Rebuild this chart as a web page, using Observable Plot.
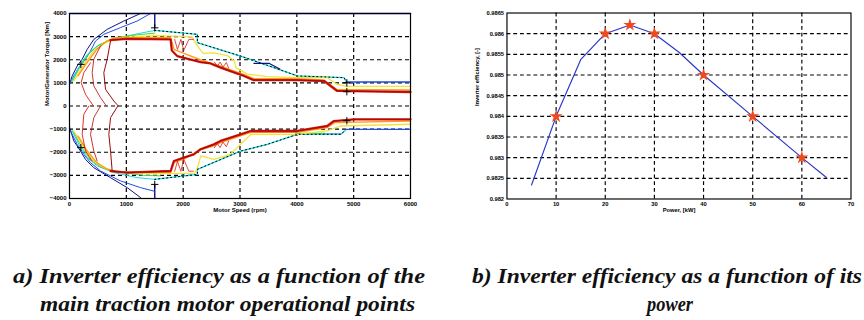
<!DOCTYPE html>
<html><head><meta charset="utf-8">
<script src="https://cdn.jsdelivr.net/npm/d3@7"></script>
<script src="https://cdn.jsdelivr.net/npm/@observablehq/plot@0.6"></script>
<style>
html,body{margin:0;padding:0;background:#fff;}
#wrap{position:relative;width:864px;height:320px;overflow:hidden;background:#fff;}
#left{position:absolute;left:0;top:0;}
#right{position:absolute;left:440px;top:0;}
#cap{position:absolute;left:0;top:240px;}
#cap text{font-family:"Liberation Serif","Times New Roman",serif;font-style:italic;font-weight:bold;font-size:21px;fill:#111;}
</style></head><body>
<div id="wrap"><div id="left"></div><div id="right"></div><svg id="cap" width="864" height="80"></svg></div>
<script>
// ---------- Left chart: contour lines (rpm, torque Nm) ----------
const speedTicks = [0, 1000, 2000, 3000, 4000, 5000, 6000];
const torqueTicks = [-4000, -3000, -2000, -1000, 0, 1000, 2000, 3000, 4000];

const navyTop = [[10,1000],[47,1300],[135,1730],[223,2020],[311,2450],[428,2880],[663,3315],[956,3675],[1250,4000]];
const blueTop = [[0,940],[76,1300],[164,1660],[282,2020],[370,2380],[458,2810],[604,3100],[898,3390],[1191,3675],[1426,4000]];
const topEdge = [[0,4000],[6000,4000]];
const limitTop = [[1500,4000],[1500,3380]];
const cyanTop = [[30,1060],[194,1800],[311,2230],[487,2600],[780,2900],[1191,3120],[1500,3270]];
const envelopeTop = [[1500,3270],[2250,3100],[2250,2740],[3010,2160],[3480,1760],[4010,1300],[4830,1225],[4880,1010]];
const navyPieceTop = [[3244,1845],[3508,1845],[3700,1600]];
const blueRightTop = [[4880,1035],[6000,1035]];
const greenTop = [[50,1060],[210,1800],[340,2260],[520,2640],[800,2960],[1200,3080],[1500,3150]];
const yellowTop = [[76,1080],[252,1800],[428,2380],[604,2700],[840,2960],[1500,3040],[2150,3000],[2250,2600],[2350,2280],[2540,2300],[2780,2180],[2900,1950],[2930,1650],[3130,1380],[3480,1270],[4000,1230],[4530,1230],[4710,940],[4880,850],[6000,850]];
const orangeTop = [[150,1300],[300,1850],[480,2450],[650,2800],[800,2950],[1780,2950],[1840,2450],[2010,2280],[2300,2000],[2660,1720],[3070,1360],[3240,1180],[4000,1180],[4470,1130],[4700,720],[6000,690]];
const redTop = [[720,2850],[1000,2900],[1780,2880],[1800,2400],[1895,2160],[2306,1900],[2480,1840],[2660,1660],[2830,1510],[3070,1300],[3240,1120],[4010,1120],[4480,1080],[4710,650],[6000,605]];
const innerTopA = [[370,1870],[252,1440],[205,1010],[282,500],[420,0]];
const innerTopB = [[546,2600],[428,2020],[399,1440],[428,865],[546,360],[650,0]];
const innerTopC = [[722,2810],[663,2020],[604,1440],[634,720],[780,216],[860,0]];
const fringeTop1 = [[1850,2880],[1900,2450],[1960,2880],[2010,2400],[2100,2880],[2180,2880]];
const fringeTop2 = [[2550,1900],[2600,1720],[2650,1900],[2700,1680],[2760,1880],[2800,1640]];

const navyBot = [[5,-940],[76,-1510],[194,-1950],[282,-2310],[428,-2670],[722,-3100],[1015,-3530],[1250,-3960]];
const blueBot = [[18,-1080],[135,-1660],[252,-2090],[370,-2450],[546,-2810],[898,-3240],[1250,-3530],[1484,-3680]];
const limitBot = [[1500,-4000],[1500,-3390]];
const cyanBot = [[47,-1080],[194,-1800],[311,-2230],[487,-2590],[780,-2880],[1191,-3100],[1500,-3170]];
const envelopeBot = [[1500,-3170],[2250,-2960],[2250,-2740],[3010,-1950],[3480,-1660],[4010,-1225],[4770,-1225],[4860,-1050]];
const blueRightBot = [[4860,-1010],[6000,-1010]];
const greenBot = [[60,-1080],[220,-1800],[360,-2300],[550,-2650],[820,-2850],[1300,-3000],[1600,-3020]];
const greenPieceBot = [[3980,-1190],[4480,-1190]];
const bluePieceBot = [[4480,-1220],[4770,-1220]];
const yellowBot = [[76,-1080],[252,-1800],[428,-2380],[604,-2670],[840,-2850],[1500,-2920],[2200,-2900],[2250,-2700],[2310,-2160],[2540,-2310],[2830,-2090],[2950,-1800],[3190,-1225],[4010,-1225],[4530,-1080],[4770,-865],[6000,-790]];
const orangeBot = [[150,-1300],[300,-1900],[480,-2450],[650,-2720],[800,-2840],[1780,-2870],[1840,-2450],[2010,-2300],[2300,-1900],[2540,-1720],[2660,-1580],[3010,-1290],[3190,-1140],[4010,-1140],[4540,-930],[4660,-720],[6000,-650]];
const redBot = [[722,-2810],[1015,-2880],[1780,-2810],[1836,-2380],[2012,-2230],[2188,-2090],[2306,-1870],[2540,-1660],[2658,-1510],[3010,-1225],[3186,-1080],[4007,-1080],[4535,-865],[4652,-650],[5004,-577],[6000,-577]];
const innerBotA = [[340,0],[252,-360],[223,-1225],[282,-1946],[399,-2378]];
const innerBotB = [[546,0],[428,-505],[370,-1225],[428,-1946],[487,-2378]];
const innerBotC = [[850,0],[722,-505],[692,-1225],[722,-1946],[751,-2811]];
const fringeBot1 = [[1850,-2820],[1900,-2400],[1960,-2820],[2010,-2300],[2100,-2820],[2180,-2820]];
const fringeBot2 = [[2550,-1800],[2600,-1620],[2650,-1800],[2700,-1560],[2760,-1760],[2800,-1520]];
const plusPoints = [[1500,3380],[200,1800],[4880,1000],[4880,620],[1500,-3390],[200,-1800],[4880,-640]];

// ---------- Right chart ----------
const powerLine = [5, 10, 15, 20, 25, 30, 35, 40, 50, 60, 65];
const effLine = [0.98234, 0.984, 0.98537, 0.986, 0.98621, 0.986, 0.98555, 0.985, 0.984, 0.983, 0.98252];
const powerPts = [10, 20, 25, 30, 40, 50, 60];
const effPts = [0.984, 0.986, 0.98621, 0.986, 0.985, 0.984, 0.983];
const powerTicks = [0, 10, 20, 30, 40, 50, 60, 70];
const effTicks = [0.982, 0.9825, 0.983, 0.9835, 0.984, 0.9845, 0.985, 0.9855, 0.986, 0.9865];

const captions = [
  "a) Inverter efficiency as a function of the",
  "main traction motor operational points",
  "b) Inverter efficiency as a function of its",
  "power"
];

// ---------- build ----------
const C = {navy:"#10108a", blue:"#1f4fe0", cyan:"#20d8e0", green:"#40d840", yellow:"#f2e23a", orange:"#ff9a1a", red:"#e01a10", dark:"#9a0a0a", edge:"#3434d0"};
const gridStyle = {stroke:"#000", strokeOpacity:1, strokeWidth:1.2, strokeDasharray:"4,3"};
const ln = (arr, stroke, w = 1, extra = {}) => Plot.line(arr, {x: d => d[0], y: d => d[1], stroke, strokeWidth: w, ...extra});

const leftSpecs = [
  [topEdge, C.edge, 1.6], [limitTop, C.navy, 1.4], [limitBot, C.navy, 1.4],
  [navyTop, C.navy, 1], [navyBot, C.navy, 1],
  [blueTop, C.blue, 1], [blueBot, C.blue, 1],
  [cyanTop, C.cyan, 1], [cyanBot, C.cyan, 1],
  [greenTop, C.green, 1], [greenBot, C.green, 1], [greenPieceBot, C.green, 1.4], [bluePieceBot, C.blue, 1.4],
  [envelopeTop, C.cyan, 1.3], [envelopeBot, C.cyan, 1.3],
  [blueRightTop, C.blue, 1.4], [blueRightBot, C.blue, 1.4], [navyPieceTop, C.navy, 1.2],
  [yellowTop, C.yellow, 1.3], [yellowBot, C.yellow, 1.3],
  [orangeTop, C.orange, 1.4], [orangeBot, C.orange, 1.4],
  [redTop, C.red, 2.3], [redBot, C.red, 2.3],
  [innerTopA, C.red, 0.9], [innerTopB, "#c0201a", 0.9], [innerTopC, C.dark, 1],
  [innerBotA, C.red, 0.9], [innerBotB, "#c0201a", 0.9], [innerBotC, C.dark, 1],
  [fringeTop1, C.red, 0.8], [fringeTop2, C.red, 0.8], [fringeBot1, C.red, 0.8], [fringeBot2, C.red, 0.8]
];

const leftPlot = Plot.plot({
  width: 440, height: 222,
  marginLeft: 69, marginRight: 30, marginTop: 13, marginBottom: 24,
  style: {fontSize: "6px", fontWeight: "bold", fontFamily: "Liberation Sans, Arial, sans-serif", color: "#000", background: "transparent"},
  x: {domain: [0, 6000], ticks: speedTicks, tickSize: 0, tickPadding: 3, tickFormat: d3.format("d"), label: null},
  y: {domain: [-4000, 4000], ticks: torqueTicks, tickSize: 0, tickPadding: 3, tickFormat: d3.format("d"), label: null},
  marks: [
    Plot.gridX(speedTicks.slice(1, -1), gridStyle),
    Plot.gridY(torqueTicks.slice(1, -1), gridStyle),
    ...leftSpecs.map(([a, c, w]) => ln(a, c, w)),
    ln(envelopeTop, "#000", 1, {strokeDasharray: "1,3"}),
    ln(envelopeBot, "#000", 1, {strokeDasharray: "1,3"}),
    ln(redTop, C.dark, 1), ln(redBot, C.dark, 1),
    Plot.dot(plusPoints, {x: d => d[0], y: d => d[1], symbol: "plus", stroke: "#000", r: 2.5, strokeWidth: 1}),
    Plot.frame({stroke: "#000", strokeWidth: 1.2}),
    Plot.text(["Motor Speed (rpm)"], {text: d => d, frameAnchor: "bottom", dy: 13, fontSize: 6, fontWeight: "bold"}),
    Plot.text(["Motor/Generator Torque [Nm]"], {text: d => d, frameAnchor: "left", rotate: -90, dx: -22, fontSize: 6, fontWeight: "bold"})
  ]
});
document.getElementById("left").appendChild(leftPlot);

const lineData = powerLine.map((p, i) => ({p, e: effLine[i]}));
const ptData = powerPts.map((p, i) => ({p, e: effPts[i]}));

const rightPlot = Plot.plot({
  width: 440, height: 226,
  marginLeft: 69, marginRight: 14, marginTop: 13, marginBottom: 20,
  style: {fontSize: "6px", fontWeight: "bold", fontFamily: "Liberation Sans, Arial, sans-serif", color: "#000", background: "transparent"},
  x: {domain: [0, 70], ticks: powerTicks, tickSize: 0, tickPadding: 3, tickFormat: d3.format("d"), label: null},
  y: {domain: [0.982, 0.9865], ticks: effTicks, tickSize: 0, tickPadding: 3, tickFormat: d3.format(".4~f"), label: null},
  marks: [
    Plot.gridX(powerTicks.slice(1, -1), gridStyle),
    Plot.gridY(effTicks.slice(1, -1), gridStyle),
    Plot.line(lineData, {x: "p", y: "e", stroke: "#2a36c8", strokeWidth: 1.2}),
    Plot.dot(ptData, {x: "p", y: "e", symbol: "star", fill: "#ee4a1e", stroke: "#ee4a1e", r: 2.8}),
    Plot.frame({stroke: "#000", strokeWidth: 1.2}),
    Plot.text(["Power, [kW]"], {text: d => d, frameAnchor: "bottom", dy: 14, fontSize: 6, fontWeight: "bold"}),
    Plot.text(["Inverter efficiency, [-]"], {text: d => d, frameAnchor: "left", rotate: -90, dx: -31, fontSize: 6, fontWeight: "bold"})
  ]
});
document.getElementById("right").appendChild(rightPlot);

// ---------- captions ----------
const cap = d3.select("#cap");
const capPos = [[13, 43, 412], [40, 71, 375], [472, 43, 390], [647, 71, 46]];
captions.forEach((t, i) => {
  const [x, y, len] = capPos[i];
  cap.append("text").attr("x", x).attr("y", y)
    .attr("textLength", len).attr("lengthAdjust", "spacingAndGlyphs")
    .text(t);
});
</script>
</body></html>
